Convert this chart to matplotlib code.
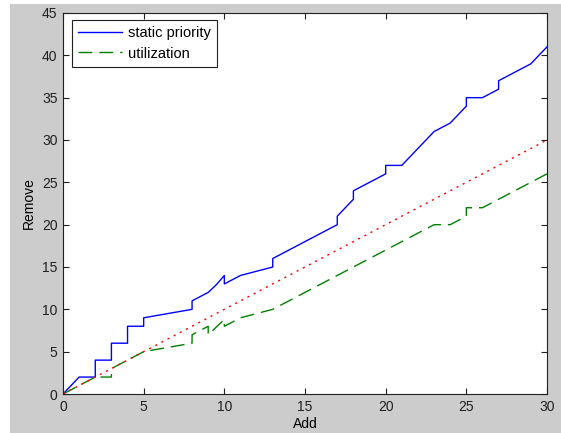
import matplotlib
matplotlib.use("Agg")
import matplotlib.pyplot as plt
from matplotlib.patches import Rectangle

plt.rcParams["font.family"] = ["Liberation Sans", "DejaVu Sans"]

# values (steps shown as repeated x values)
static_x = [0, 1, 2, 2, 3, 3, 4, 4, 5, 5, 8, 8, 9, 9.5, 10, 10, 11, 13, 13,
            17, 17, 18, 18, 20, 20, 21, 22, 23, 24, 25, 25, 26, 27, 27, 29, 30]
static_y = [0, 2, 2, 4, 4, 6, 6, 8, 8, 9, 10, 11, 12, 12.9, 14, 13, 14, 15, 16,
            20, 21, 23, 24, 26, 27, 27, 29, 31, 32, 34, 35, 35, 36, 37, 39, 41]

util_x = [0, 2, 3, 3, 5, 8, 8, 9, 9, 10, 10, 11, 13, 23, 24, 25, 25, 26, 30]
util_y = [0, 2, 2, 3, 5, 6, 7, 8, 7, 8.8, 8, 9, 10, 20, 20, 21, 22, 22, 26]

ref_x = [0, 30]
ref_y = [0, 30]

x_ticks = [0, 5, 10, 15, 20, 25, 30]
y_ticks = [0, 5, 10, 15, 20, 25, 30, 35, 40, 45]

W, H = 561, 433
fig = plt.figure(figsize=(W / 100, H / 100), dpi=100, facecolor="#cccccc")
# thin white strips along the top and left edge of the screenshot
fig.add_artist(Rectangle((0, 0), 10 / W, 1, transform=fig.transFigure,
                         facecolor="white", edgecolor="none", zorder=-1))
fig.add_artist(Rectangle((0, 1 - 4 / H), 1, 4 / H, transform=fig.transFigure,
                         facecolor="white", edgecolor="none", zorder=-1))

ax = fig.add_axes([63 / W, (H - 394) / H, 484 / W, 381 / H])
ax.set_facecolor("white")

ax.plot(static_x, static_y, color="#0000ff", linewidth=1.0, label="static priority")
ax.plot(util_x, util_y, color="#008000", linewidth=1.0, dashes=(10, 5), label="utilization")
ax.plot(ref_x, ref_y, color="#ff0000", linewidth=1.0, dashes=(1.5, 3.5))

ax.set_xlim(0, 30)
ax.set_ylim(0, 45)
ax.set_xticks(x_ticks)
ax.set_yticks(y_ticks)
ax.tick_params(direction="in", length=4, width=0.8, top=True, right=True,
               labelsize=10, pad=4, colors="#202020")
for sp in ax.spines.values():
    sp.set_color("#202020")
    sp.set_linewidth(0.8)

ax.set_xlabel("Add", fontsize=10, labelpad=2.5)
ax.set_ylabel("Remove", fontsize=10, labelpad=4)

leg = ax.legend(loc="upper left", bbox_to_anchor=(0.018, 0.982), borderaxespad=0,
                fontsize=10.5, handlelength=3.0, handletextpad=0.45, labelspacing=0.45,
                borderpad=0.42, fancybox=False, framealpha=1, edgecolor="#202020")
leg.get_frame().set_linewidth(0.8)

fig.savefig("out.png", dpi=100, facecolor=fig.get_facecolor())
